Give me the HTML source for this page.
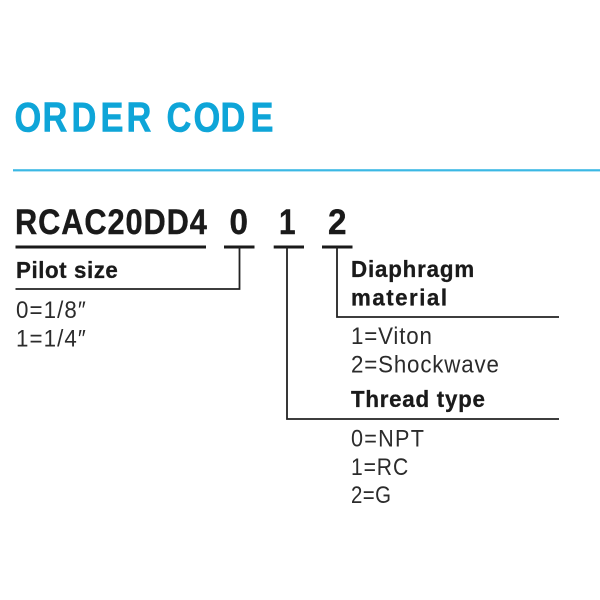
<!DOCTYPE html>
<html>
<head>
<meta charset="utf-8">
<style>
html,body{margin:0;padding:0;background:#fff;width:600px;height:600px;overflow:hidden}
svg{display:block}
text{font-family:"Liberation Sans",sans-serif}
.h{font-size:23px;font-weight:bold;fill:#1a1a1a;stroke:#1a1a1a;stroke-width:.3}
.r{font-size:24px;fill:#2b2b2b}
.c{font-size:35px;font-weight:bold;fill:#1a1a1a;stroke:#1a1a1a;stroke-width:.4}
</style>
</head>
<body>
<svg width="600" height="600" viewBox="0 0 600 600" xmlns="http://www.w3.org/2000/svg">
<rect width="600" height="600" fill="#fff"/>
<text transform="translate(0,131.7) scale(0.82,1)" x="17.7 51.8 87.2 122.6 154.3 185 203 236 268.9 305.5" y="0" font-size="42" font-weight="bold" fill="#0ea5d8" stroke="#0ea5d8" stroke-width="0.6">ORDER CODE</text>
<rect x="13" y="169.2" width="587" height="2.2" fill="#3bb8e4"/>

<text class="c" transform="translate(15,234) scale(0.88,1)" x="0" y="0" textLength="218" lengthAdjust="spacing">RCAC20DD4</text>
<text class="c" transform="translate(229.5,234) scale(0.95,1)" x="0" y="0">0</text>
<text class="c" transform="translate(279,234) scale(0.85,1)" x="0" y="0">1</text>
<text class="c" transform="translate(328,234) scale(0.95,1)" x="0" y="0">2</text>

<g fill="#1a1a1a">
<rect x="15.5" y="245.5" width="190.5" height="3"/>
<rect x="224" y="245.5" width="30.5" height="3"/>
<rect x="273.7" y="245.5" width="30.3" height="3"/>
<rect x="322" y="245.5" width="30.5" height="3"/>
</g>
<g fill="none" stroke="#222" stroke-width="1.8">
<path d="M15.5 289H239.5V247"/>
<path d="M287 247V419H559"/>
<path d="M337 247V317H559"/>
</g>

<text class="h" transform="translate(16,278) scale(0.97,1)" x="0" y="0" textLength="105" lengthAdjust="spacing">Pilot size</text>
<text class="r" transform="translate(16,318) scale(0.93,1)" x="0" y="0" textLength="75" lengthAdjust="spacing">0=1/8″</text>
<text class="r" transform="translate(16,346.5) scale(0.93,1)" x="0" y="0" textLength="75" lengthAdjust="spacing">1=1/4″</text>

<text class="h" transform="translate(351,277) scale(0.97,1)" x="0" y="0" textLength="127" lengthAdjust="spacing">Diaphragm</text>
<text class="h" transform="translate(351,305.5) scale(0.97,1)" x="0" y="0" textLength="99" lengthAdjust="spacing">material</text>
<text class="r" transform="translate(351,344) scale(0.93,1)" x="0" y="0" textLength="87" lengthAdjust="spacing">1=Viton</text>
<text class="r" transform="translate(351,372.5) scale(0.93,1)" x="0" y="0" textLength="159" lengthAdjust="spacing">2=Shockwave</text>

<text class="h" transform="translate(351,407) scale(0.97,1)" x="0" y="0" textLength="138" lengthAdjust="spacing">Thread type</text>
<text class="r" transform="translate(351,446.5) scale(0.9,1)" x="0" y="0" textLength="81" lengthAdjust="spacing">0=NPT</text>
<text class="r" transform="translate(351,475) scale(0.88,1)" x="0" y="0" textLength="65" lengthAdjust="spacing">1=RC</text>
<text class="r" transform="translate(351,503) scale(0.85,1)" x="0" y="0" textLength="47" lengthAdjust="spacing">2=G</text>
</svg>
</body>
</html>
